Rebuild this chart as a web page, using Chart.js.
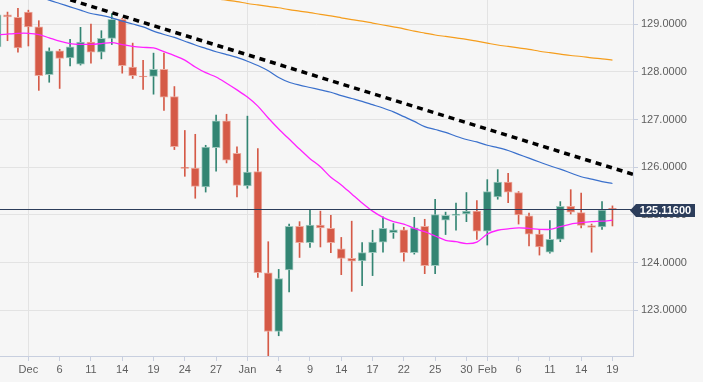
<!DOCTYPE html>
<html><head><meta charset="utf-8">
<script src="https://cdn.jsdelivr.net/npm/chart.js@4.4.1/dist/chart.umd.min.js"></script>
<style>html,body{margin:0;padding:0;background:#f6f6f6;overflow:hidden}canvas{display:block}</style>
</head><body>
<canvas id="c" width="703" height="382"></canvas>
<script>
// ---- data ----
const dates = ['2018-11-28','2018-11-29','2018-11-30','2018-12-03','2018-12-04','2018-12-05','2018-12-06','2018-12-07',
'2018-12-10','2018-12-11','2018-12-12','2018-12-13','2018-12-14','2018-12-17','2018-12-18','2018-12-19','2018-12-20','2018-12-21',
'2018-12-24','2018-12-25','2018-12-26','2018-12-27','2018-12-28','2018-12-31','2019-01-01','2019-01-02','2019-01-03','2019-01-04',
'2019-01-07','2019-01-08','2019-01-09','2019-01-10','2019-01-11','2019-01-14','2019-01-15','2019-01-16','2019-01-17','2019-01-18',
'2019-01-21','2019-01-22','2019-01-23','2019-01-24','2019-01-25','2019-01-28','2019-01-29','2019-01-30','2019-01-31','2019-02-01',
'2019-02-04','2019-02-05','2019-02-06','2019-02-07','2019-02-08','2019-02-11','2019-02-12','2019-02-13','2019-02-14','2019-02-15',
'2019-02-18','2019-02-19'];

const opens  = [128.52,129.19,129.14,129.25,128.94,127.94,128.44,128.29,128.16,128.62,128.41,128.70,129.10,128.10,127.91,127.90,128.05,127.48,
126.00,125.98,125.59,126.41,126.97,126.29,125.61,125.91,123.79,122.56,123.85,124.76,124.42,124.79,124.72,124.29,124.09,124.04,124.21,124.43,
124.63,124.69,124.21,124.76,123.94,124.89,124.99,125.02,125.08,124.66,125.38,125.69,125.47,124.98,124.60,124.22,124.49,125.18,125.05,124.78,
124.75,125.14];
const highs  = [129.25,129.25,129.33,129.29,129.07,128.50,128.47,128.68,128.93,129.00,128.86,129.22,129.12,128.60,128.24,128.39,128.39,127.69,
126.77,126.69,126.46,127.09,127.11,126.43,127.07,126.39,124.44,123.86,124.81,124.86,125.10,125.08,124.99,124.53,124.87,124.42,124.68,124.96,
124.82,124.74,124.95,124.91,125.33,125.06,125.25,125.47,125.30,125.74,125.95,125.87,125.49,125.04,124.70,124.88,125.28,125.53,125.46,124.81,
125.28,125.19];
const lows   = [128.45,128.65,128.41,128.54,127.61,127.78,127.65,128.12,128.14,128.18,128.27,128.57,127.97,127.86,127.63,127.53,127.19,126.37,
125.81,125.35,125.48,125.92,126.09,125.38,125.56,123.69,121.50,122.47,123.39,124.11,124.32,124.33,124.21,123.75,123.40,123.52,123.73,124.22,
124.51,124.03,124.18,123.77,123.77,124.59,124.68,124.86,124.49,124.37,125.33,125.26,124.81,124.35,124.16,124.20,124.44,125.02,124.73,124.22,
124.70,124.77];
const closes = [129.19,129.15,128.50,128.94,127.92,128.44,128.28,128.52,128.62,128.41,128.70,129.10,128.13,127.92,127.89,128.05,127.47,126.43,
125.975,125.60,126.42,126.97,126.15,125.62,125.90,123.79,122.56,123.67,124.76,124.42,124.79,124.73,124.42,124.09,124.03,124.21,124.43,124.72,
124.69,124.21,124.73,123.94,125.01,124.99,125.02,125.08,124.66,125.49,125.69,125.48,125.00,124.60,124.33,124.49,125.18,125.06,124.78,124.74,
125.10,125.116];

const smaMagenta = [128.77,128.79,128.805,128.805,128.78,128.71,128.64,128.59,128.574,128.574,128.59,128.61,128.57,128.53,128.51,128.50,128.42,128.34,
128.245,128.10,127.98,127.89,127.76,127.62,127.47,127.28,127.03,126.80,126.59,126.38,126.18,126.01,125.79,125.63,125.44,125.25,125.08,124.95,
124.86,124.81,124.72,124.65,124.56,124.47,124.44,124.40,124.43,124.60,124.68,124.71,124.73,124.72,124.70,124.70,124.755,124.81,124.84,124.86,
124.87,124.89];
const smaBlue = [129.86,129.79,129.71,129.65,129.58,129.50,129.43,129.36,129.29,129.22,129.18,129.13,129.06,129.00,128.94,128.85,128.78,128.72,
128.64,128.56,128.49,128.42,128.36,128.30,128.22,128.13,128.02,127.88,127.78,127.72,127.67,127.62,127.57,127.50,127.44,127.38,127.31,127.24,
127.16,127.06,126.96,126.85,126.79,126.73,126.65,126.58,126.53,126.46,126.41,126.35,126.27,126.19,126.11,126.03,125.96,125.88,125.80,125.75,
125.70,125.66];
const smaOrange = [null,null,null,null,null,null,null,null,null,null,null,null,null,null,null,null,null,129.66,
129.63,129.60,129.57,129.53,129.50,129.47,129.43,129.40,129.37,129.34,129.30,129.27,129.24,129.20,129.17,129.13,129.09,129.06,129.02,128.98,
128.94,128.90,128.85,128.81,128.77,128.74,128.71,128.68,128.64,128.60,128.56,128.53,128.50,128.47,128.43,128.40,128.37,128.34,128.32,128.29,
128.27,128.245];

const trendX = [4, 61];
const trendY = [129.71, 125.85];

const xTickIndex  = [3,6,9,12,15,18,21,24,27,30,33,36,39,42,45,47,50,53,56,59];
const xTickLabels = ['Dec','6','11','14','19','24','27','Jan','4','9','14','17','22','25','30','Feb','6','11','14','19'];
const monthLabels = ['Dec','Jan','Feb'];
const yTicks = [123,124,125,126,127,128,129];
const currentPrice = 125.116;

// ---- styling ----
const UP = '#338573', DOWN = '#d55a47';
const UP_EDGE = '#9fc9bf', DOWN_EDGE = '#ecab9f';
const FONT = 'Liberation Sans, Arial, Helvetica, sans-serif';
const AXIS = '#c8cfdf', GRID = '#e3e3e3', NAVY = '#2c3d5b';

const isUp = opens.map((o,i) => closes[i] >= o);
const bodyData = dates.map((d,i) => ({x:i, y:[opens[i], closes[i]]}));
const wickData = dates.map((d,i) => ({x:i, y:[lows[i], highs[i]]}));
const toPts = arr => arr.map((v,i) => ({x:i, y:v}));

const bgPlugin = {
  id:'bg',
  beforeDraw(chart){ const c=chart.ctx; c.save(); c.fillStyle='#f6f6f6'; c.fillRect(0,0,chart.width,chart.height); c.restore(); }
};
const pricePlugin = {
  id:'price',
  afterDraw(chart){
    const {ctx, chartArea:a, scales:{y}} = chart;
    const py = Math.round(y.getPixelForValue(currentPrice)) + 0.5;
    ctx.save();
    ctx.strokeStyle = NAVY; ctx.lineWidth = 1.2;
    ctx.beginPath(); ctx.moveTo(a.left, py); ctx.lineTo(a.right, py); ctx.stroke();
    const bx = a.right + 3, bw = 59, bh = 13, by = py + 1;
    ctx.fillStyle = NAVY;
    ctx.beginPath();
    ctx.moveTo(a.right - 3, by);
    ctx.lineTo(bx, by - bh/2); ctx.lineTo(bx + bw, by - bh/2);
    ctx.lineTo(bx + bw, by + bh/2); ctx.lineTo(bx, by + bh/2);
    ctx.closePath(); ctx.fill();
    ctx.fillStyle = '#ffffff'; ctx.font = 'bold 11px ' + FONT;
    ctx.textAlign = 'center'; ctx.textBaseline = 'middle';
    ctx.fillText(currentPrice.toFixed(5), bx + bw/2, by + 0.5);
    ctx.restore();
  }
};

new Chart(document.getElementById('c'), {
  type: 'bar',
  data: {
    datasets: [
      { type:'line', data:[{x:trendX[0], y:trendY[0]},{x:trendX[1], y:trendY[1]}], borderColor:'#000', borderWidth:3.5,
        borderDash:[6,5], pointRadius:0, order:0 },
      { type:'line', data:toPts(smaMagenta), borderColor:'#ff22ff', borderWidth:1.3, pointRadius:0, tension:0.3, order:1 },
      { type:'line', data:toPts(smaBlue), borderColor:'#3a70cc', borderWidth:1.2, pointRadius:0, tension:0.3, order:1 },
      { type:'line', data:toPts(smaOrange), borderColor:'#f59d1c', borderWidth:1.2, pointRadius:0, tension:0.3, order:1 },
      { data: bodyData, backgroundColor: isUp.map(u => u ? UP : DOWN), borderColor: isUp.map(u => u ? UP_EDGE : DOWN_EDGE),
        borderWidth:1, borderSkipped:false, barThickness:8, grouped:false, order:2 },
      { data: wickData, backgroundColor: isUp.map(u => u ? UP : DOWN), borderWidth:0, barThickness:1, grouped:false, order:3 }
    ]
  },
  options: {
    responsive:false, animation:false, devicePixelRatio:1,
    layout:{ padding:0 },
    plugins:{ legend:{display:false}, tooltip:{enabled:false} },
    scales:{
      x:{
        type:'linear', min:0.28, max:60.97, position:'bottom', offset:false,
        afterBuildTicks: s => { s.ticks = xTickIndex.map(v => ({value:v})); },
        afterFit: s => { s.height = 26; s.paddingLeft = 0; s.paddingRight = 0; },
        ticks:{ autoSkip:false, maxRotation:0, padding:2, color:'#5e5e5e', font:{family:FONT, size:11},
          callback: v => xTickLabels[xTickIndex.indexOf(v)] },
        grid:{ offset:false, color: ctx => (ctx.tick && monthLabels.includes(xTickLabels[xTickIndex.indexOf(ctx.tick.value)])) ? GRID : 'rgba(0,0,0,0)',
          tickColor: AXIS, tickLength:5, lineWidth:1 },
        border:{ display:true, color:AXIS }
      },
      y:{
        type:'linear', position:'right', min:122.046, max:129.503,
        afterBuildTicks: s => { s.ticks = yTicks.map(v => ({value:v})); },
        afterFit: s => { s.width = 70; s.paddingTop = 0; s.paddingBottom = 0; },
        ticks:{ padding:3, color:'#5e5e5e', font:{family:FONT, size:11}, callback: v => Number(v).toFixed(4) },
        grid:{ color:GRID, tickColor:AXIS, tickLength:5 },
        border:{ display:true, color:AXIS }
      }
    }
  },
  plugins:[bgPlugin, pricePlugin]
});
</script>
</body></html>
